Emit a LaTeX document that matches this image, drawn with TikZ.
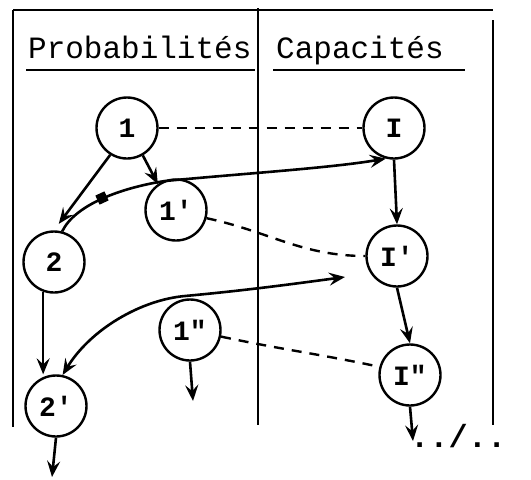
\documentclass[tikz,border=0pt]{standalone}
\usepackage{fontspec}
\setmonofont{Liberation Mono}
\usetikzlibrary{arrows.meta,calc}
\begin{document}
\begin{tikzpicture}[x=1pt,y=-1pt,
  st/.style={draw,circle,line width=2.4pt,minimum size=61pt,inner sep=0pt,font=\ttfamily\bfseries\fontsize{28}{28}\selectfont},
  frame/.style={line width=2.8pt},
  hdr/.style={font=\ttfamily\fontsize{31}{31}\selectfont,anchor=base west,inner sep=0pt},
  arr/.style={line width=2.6pt,-{Stealth[length=16pt,width=13pt,inset=6pt]}},
  darr/.style={line width=2.6pt,{Stealth[length=16pt,width=13pt,inset=6pt]}-{Stealth[length=16pt,width=13pt,inset=6pt]}},
  dsh/.style={line width=2.4pt,dash pattern=on 10pt off 8pt}]
\useasboundingbox (0,0) rectangle (531,480);
% frame
\draw[frame] (13,10) -- (493,10);
\draw[frame] (13,10) -- (13,427);
\draw[frame] (258,8) -- (258,425);
\draw[frame] (493,20) -- (493,425);
% headers
\node[hdr] (hp) at (28,58) {Probabilit\'es};
\node[hdr] (hc) at (276,58) {Capacit\'es};
\draw[line width=2pt] (26,70) -- (255,70);
\draw[line width=2pt] (273,70) -- (465,70);
% nodes
\node[st] (n1) at (127,128) {1};
\node[st] (nI) at (394,128) {I};
\node[st] (n1p) at (176,210) {1\symbol{39}};
\node[st] (n2) at (54,262) {2};
\node[st] (nIp) at (397,256) {I\symbol{39}};
\node[st] (n1pp) at (190,330) {1\symbol{34}};
\node[st] (nIpp) at (410,375) {I\symbol{34}};
\node[st] (n2p) at (56,406) {2\symbol{39}};
% free ends
\coordinate (e1) at (193,401);
\coordinate (e2) at (52,477);
\coordinate (e3) at (413,441);
\coordinate (t2) at (345,277);
\node[font=\ttfamily\bfseries\fontsize{32}{32}\selectfont,anchor=base west,inner sep=0pt] (dots) at (410,447) {../..};
% dashed links
\draw[dsh] (n1.east) -- (nI.west);
\draw[dsh] (n1p.-15) to[out=-12,in=180] (nIp.west);
\draw[dsh] (n1pp.-12) to[out=-12,in=168] (nIpp.165);
% arrows
\draw[arr,shorten >=8pt] (n1.238) -- (n2.north);
\draw[arr] (n1.300) -- (n1p.125);
\draw[arr] (nI.south) -- (nIp.north);
\draw[arr] (nIp.south) -- (nIpp.north);
\draw[arr] (nIpp.south) -- (e3);
\draw[arr] (n1pp.south) -- (e1);
\draw[arr] (n2.250) -- (n2.250 |- n2p.north);
\draw[arr] (n2p.south) -- (e2);
% curved arrows
\draw[arr] (n2.75) .. controls (75,205) and (120,188) .. (165,181) .. controls (250,173) and (330,168) .. (nI.255);
\fill[rotate around={25:(102,198)}] (97,193) rectangle (107,203);
\draw[darr] (n2p.78) .. controls (90,330) and (140,300) .. (185,296) .. controls (250,290) and (300,283) .. (t2);
\end{tikzpicture}
\end{document}
